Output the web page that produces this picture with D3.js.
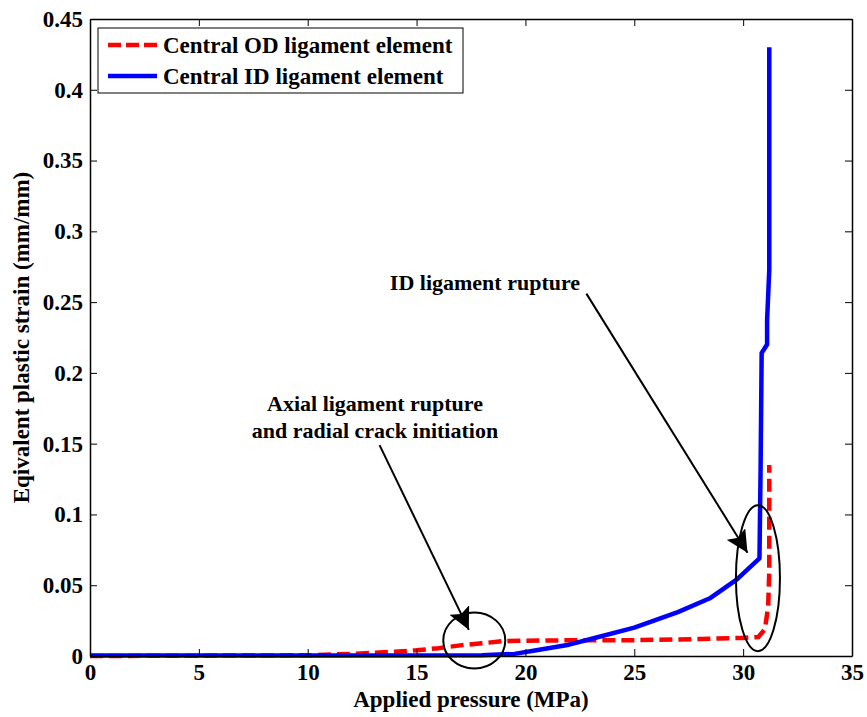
<!DOCTYPE html>
<html>
<head>
<meta charset="utf-8">
<script src="https://cdn.jsdelivr.net/npm/d3@7"></script>
<style>
  body { margin: 0; background: #fff; }
  text { font-family: "Liberation Serif", "Times New Roman", serif; font-weight: bold; }
</style>
</head>
<body>
<svg width="867" height="717"></svg>
<script>
// data
var xTicks = [0, 5, 10, 15, 20, 25, 30, 35];
var yTicks = [0, 0.05, 0.1, 0.15, 0.2, 0.25, 0.3, 0.35, 0.4, 0.45];
var yTickLabels = ["0", "0.05", "0.1", "0.15", "0.2", "0.25", "0.3", "0.35", "0.4", "0.45"];

var odPressure = [0, 10, 12, 14, 15, 16, 17, 18, 19, 21, 25, 28, 30, 30.7, 31.0, 31.15, 31.2, 31.2];
var odStrain   = [0, 0.0005, 0.0015, 0.003, 0.004, 0.0055, 0.0075, 0.009, 0.0105, 0.011, 0.0112, 0.012, 0.0128, 0.0134, 0.019, 0.035, 0.06, 0.135];

var idPressure = [0, 10, 18, 19.5, 20.5, 22, 23, 25, 27, 28.5, 29.7, 30.75, 30.8, 30.85, 31.1, 31.1, 31.2, 31.2];
var idStrain   = [0.0003, 0.0003, 0.0006, 0.0015, 0.004, 0.008, 0.012, 0.02, 0.031, 0.041, 0.054, 0.069, 0.13, 0.214, 0.22, 0.237, 0.273, 0.43];

var seriesNames = ["Central OD ligament element", "Central ID ligament element"];

var svg = d3.select("svg");
var margin = {left: 90, right: 15, top: 19, bottom: 61};
var width = +svg.attr("width"), height = +svg.attr("height");
var fs = "23px";

var x = d3.scaleLinear().domain([0, 35]).range([margin.left, width - margin.right]);
var y = d3.scaleLinear().domain([0, 0.45]).range([height - margin.bottom, margin.top]);

var line = d3.line().x(function(d) { return x(d[0]); }).y(function(d) { return y(d[1]); });

var od = d3.zip(odPressure, odStrain);
var id = d3.zip(idPressure, idStrain);

var plot = svg.append("g");
plot.append("path").datum(od)
  .attr("d", line).attr("fill", "none")
  .attr("stroke", "#ff0000").attr("stroke-width", 4.5)
  .attr("stroke-dasharray", "13,6");
plot.append("path").datum(id)
  .attr("d", line).attr("fill", "none")
  .attr("stroke", "#0000ff").attr("stroke-width", 4.5)
  .attr("stroke-linejoin", "round");

// axes (box style, inward ticks)
function styleAxis(g) {
  g.selectAll(".domain").attr("stroke", "#000").attr("stroke-width", 1.5);
  g.selectAll(".tick line").attr("stroke", "#000");
  g.selectAll("text").attr("fill", "#000").style("font-size", fs);
}
svg.append("g").attr("transform", "translate(0," + y(0) + ")")
  .call(d3.axisBottom(x).tickValues(xTicks).tickSizeInner(-7).tickSizeOuter(0).tickPadding(8))
  .call(styleAxis);
svg.append("g").attr("transform", "translate(0," + y(0.45) + ")")
  .call(d3.axisTop(x).tickValues(xTicks).tickSizeInner(-7).tickSizeOuter(0).tickFormat(""))
  .call(styleAxis);
svg.append("g").attr("transform", "translate(" + x(0) + ",0)")
  .call(d3.axisLeft(y).tickValues(yTicks).tickSizeInner(-7).tickSizeOuter(0).tickPadding(7)
    .tickFormat(function(d, i) { return yTickLabels[i]; }))
  .call(styleAxis);
svg.append("g").attr("transform", "translate(" + x(35) + ",0)")
  .call(d3.axisRight(y).tickValues(yTicks).tickSizeInner(-7).tickSizeOuter(0).tickFormat(""))
  .call(styleAxis);

// axis titles
svg.append("text").attr("x", x(17.5)).attr("y", 707)
  .attr("text-anchor", "middle").style("font-size", fs)
  .text("Applied pressure (MPa)");
svg.append("text").attr("transform", "translate(29," + y(0.225) + ") rotate(-90)")
  .attr("text-anchor", "middle").style("font-size", fs)
  .text("Eqivalent plastic strain (mm/mm)");

// legend
var lg = svg.append("g");
lg.append("rect").attr("x", 98).attr("y", 28).attr("width", 365).attr("height", 65)
  .attr("fill", "#fff").attr("stroke", "#000").attr("stroke-width", 1);
var legendStyles = [{c: "#ff0000", dash: "13,5"}, {c: "#0000ff", dash: null}];
seriesNames.forEach(function(n, i) {
  var yy = 45 + i * 31;
  lg.append("line").attr("x1", 108).attr("x2", 157).attr("y1", yy).attr("y2", yy)
    .attr("stroke", legendStyles[i].c).attr("stroke-width", 4.5)
    .attr("stroke-dasharray", legendStyles[i].dash);
  lg.append("text").attr("x", 163).attr("y", yy + 7.5).style("font-size", fs).text(n);
});

// annotations
var ann = svg.append("g");
svg.append("defs").append("marker").attr("id", "ah")
  .attr("viewBox", "0 0 10 10").attr("refX", 10).attr("refY", 5)
  .attr("markerWidth", 22).attr("markerHeight", 22).attr("markerUnits", "userSpaceOnUse")
  .attr("orient", "auto")
  .append("path").attr("d", "M0,0 L10,5 L0,10 L2,5 Z").attr("fill", "#000");

ann.append("text").attr("x", 485).attr("y", 290).attr("text-anchor", "middle")
  .style("font-size", "22px").text("ID ligament rupture");
ann.append("line").attr("x1", x(22.8)).attr("y1", y(0.256)).attr("x2", x(30.2)).attr("y2", y(0.073))
  .attr("stroke", "#000").attr("stroke-width", 2).attr("marker-end", "url(#ah)");
ann.append("ellipse").attr("cx", x(30.68)).attr("cy", y(0.055)).attr("rx", 22).attr("ry", 73)
  .attr("fill", "none").attr("stroke", "#000").attr("stroke-width", 2);

ann.append("text").attr("x", 375).attr("y", 411).attr("text-anchor", "middle")
  .style("font-size", "22px").text("Axial ligament rupture");
ann.append("text").attr("x", 375).attr("y", 438).attr("text-anchor", "middle")
  .style("font-size", "22px").text("and radial crack initiation");
ann.append("line").attr("x1", x(13.3)).attr("y1", y(0.149)).attr("x2", x(17.4)).attr("y2", y(0.0185))
  .attr("stroke", "#000").attr("stroke-width", 2).attr("marker-end", "url(#ah)");
ann.append("ellipse").attr("cx", x(17.65)).attr("cy", y(0.011)).attr("rx", 31).attr("ry", 28)
  .attr("fill", "none").attr("stroke", "#000").attr("stroke-width", 2);
</script>
</body>
</html>
